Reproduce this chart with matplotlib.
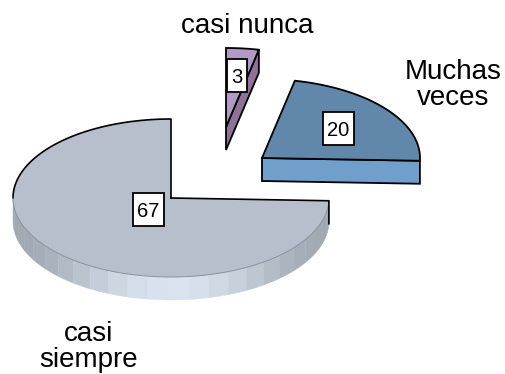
import numpy as np
from matplotlib import pyplot as plt
from matplotlib.patches import Rectangle

plt.rcParams['font.family'] = ['Liberation Sans', 'DejaVu Sans']

# chart data
categories = ['casi\nsiempre', 'Muchas\nveces', 'casi nunca']
values = [67, 20, 3]

# layout, in pixels of the 505x374 picture
W, H = 505, 374
R = 158
DEPTH = 23
centers_px = [(171, 198), (262, 158), (226, 127)]
label_px = [(89, 347), (453, 85), (247, 26)]
value_px = [(148, 209.5), (338.5, 128.5), (237, 75.5)]
top_colors = ['#b6bfcb', '#6188ab', '#b39ac6']
wall_colors = ['#b6bfcb', '#6f9fca', '#8f7199']


def ypx(y):
    # y is squashed by 2 through the axes limits, that gives the tilted look
    return (H - y) * 2


def rim(c, a0, a1, n=60):
    t = np.radians(np.linspace(a0, a1, n))
    return c[0] + R * np.cos(t), c[1] + R * np.sin(t)


fig = plt.figure(figsize=(W / 100, H / 100), dpi=100)
ax = fig.add_axes([0, 0, 1, 1])

wedges, _ = ax.pie(values, startangle=90, radius=R, colors=top_colors,
                   wedgeprops={'linewidth': 0, 'zorder': 5})
ax.set_aspect('auto')
ax.set_xlim(0, W)
ax.set_ylim(0, H * 2)
ax.axis('off')

centers = [(x, ypx(y)) for x, y in centers_px]
d = DEPTH * 2
for w, c in zip(wedges, centers):
    w.set_center(c)

a_gray = (wedges[0].theta1, wedges[0].theta2)
a_blue = (wedges[1].theta1, wedges[1].theta2)
a_purple = (wedges[2].theta1, wedges[2].theta2)

# banded outer wall of the big slice
edges = np.linspace(180, a_gray[1], 25)
for a0, a1 in zip(edges[:-1], edges[1:]):
    mid = (a0 + a1) / 2
    k = np.sin(np.radians(mid)) ** 2
    col = np.array([0xa0, 0xa8, 0xb2]) + k ** 2 * np.array([0x39, 0x3b, 0x3d])
    x, y = rim(centers[0], a0, a1, 8)
    ax.fill(np.r_[x, x[::-1]], np.r_[y, y[::-1] - d], color=col / 255, lw=0.3, zorder=2)

# top slice outlines
x, y = rim(centers[0], a_gray[0], 180)
ax.plot(np.r_[centers[0][0], x], np.r_[centers[0][1], y], color='k', lw=1.2, zorder=6)
x, y = rim(centers[0], 180, a_gray[1])
ax.plot(x, y, color='#8a929c', lw=0.7, zorder=6)
ex, ey = rim(centers[0], a_gray[1], a_gray[1], 1)
ax.plot([centers[0][0], ex[0], ex[0]], [centers[0][1], ey[0], ey[0] - d],
        color='k', lw=1.2, zorder=6)

# blue slice, wall at the front edge
c = centers[1]
ex, ey = rim(c, a_blue[0], a_blue[0], 1)
ax.fill([c[0], ex[0], ex[0], c[0]], [c[1], ey[0], ey[0] - d, c[1] - d],
        facecolor=wall_colors[1], edgecolor='k', lw=1.3, zorder=3)
x, y = rim(c, a_blue[0], a_blue[1])
ax.fill(np.r_[c[0], x], np.r_[c[1], y], facecolor='none', edgecolor='k', lw=1.3, zorder=6)

# purple slice, wall on the right edge
c = centers[2]
ex, ey = rim(c, a_purple[0], a_purple[0], 1)
ax.fill([c[0], ex[0], ex[0], c[0]], [c[1], ey[0], ey[0] - d, c[1] - d],
        facecolor=wall_colors[2], edgecolor='k', lw=1.3, zorder=3)
x, y = rim(c, a_purple[0], a_purple[1])
ax.fill(np.r_[c[0], x], np.r_[c[1], y], facecolor='none', edgecolor='k', lw=1.3, zorder=6)

# value boxes and names
for v, (x, y) in zip(values, value_px):
    bw = 9 + 11 * len(str(v))
    ax.add_patch(Rectangle((x - bw / 2, ypx(y) - 33), bw, 66, fc='white', ec='k', lw=1.3, zorder=7))
    ax.text(x, ypx(y), str(v), ha='center', va='center_baseline', fontsize=14.5, color='k', zorder=8)
for name, (x, y) in zip(categories, label_px):
    ax.text(x, ypx(y), name, ha='center', va='center', fontsize=20, color='k',
            linespacing=1.0, zorder=8)

plt.savefig('out.png', dpi=100)
